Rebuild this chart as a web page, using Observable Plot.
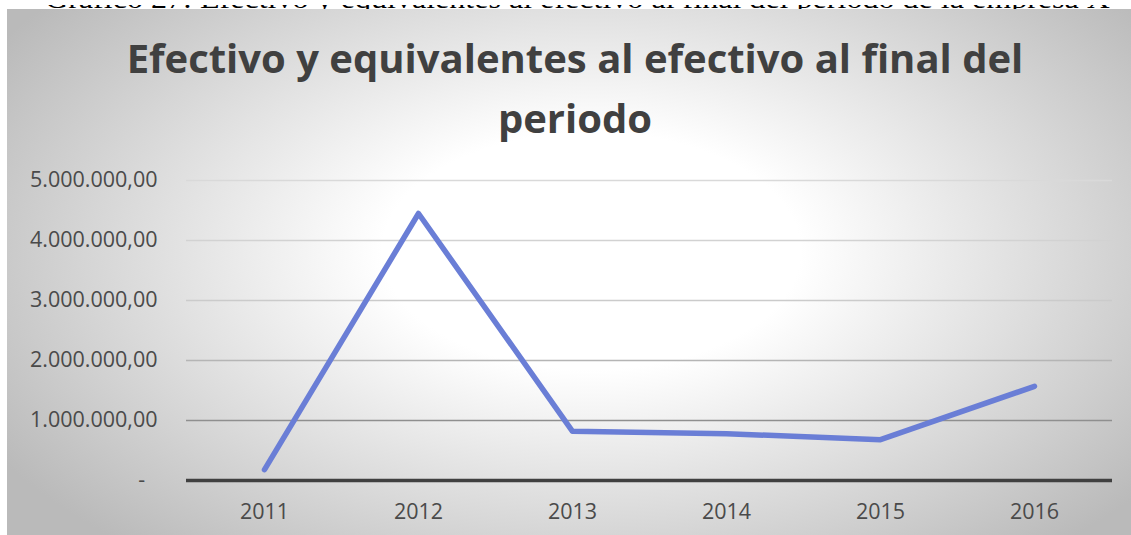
<!DOCTYPE html>
<html>
<head>
<meta charset="utf-8">
<script src="https://cdn.jsdelivr.net/npm/d3@7"></script>
<script src="https://cdn.jsdelivr.net/npm/@observablehq/plot@0.6"></script>
<style>
  html, body { margin: 0; padding: 0; background: #ffffff; width: 1131px; height: 535px; overflow: hidden; }
  #caption { position: absolute; left: 0; top: 0; width: 1131px; height: 9px; overflow: hidden; background: #fff; }
  #chart { position: absolute; left: 7px; top: 9px; width: 1124px; height: 526px;
    background: radial-gradient(ellipse 62% 75% at 52% 46%, #ffffff 0%, #ffffff 30%, #bababa 100%); }
  #header { position: absolute; left: 0; top: 0; }
  #plot { position: absolute; left: 0; top: 150px; }
</style>
</head>
<body>
<div id="caption"></div>
<div id="chart">
  <div id="header"></div>
  <div id="plot"></div>
</div>
<script>
const captionText = "Gráfico 27: Efectivo y equivalentes al efectivo al final del periodo de la empresa X";
const titleLines = ["Efectivo y equivalentes al efectivo al final del", "periodo"];
const years = ["2011", "2012", "2013", "2014", "2015", "2016"];
const cash = [180000, 4450000, 820000, 780000, 680000, 1570000];
const yTicks = [0, 1000000, 2000000, 3000000, 4000000, 5000000];

const data = years.map((year, i) => ({year, value: cash[i]}));

// cut-off caption above the chart
const cap = d3.select("#caption").append("svg").attr("width", 1131).attr("height", 9);
cap.append("text").attr("x", 45).attr("y", 3)
  .attr("textLength", 1065).attr("lengthAdjust", "spacingAndGlyphs")
  .style("font-family", "'Liberation Serif', 'Times New Roman', serif")
  .style("font-size", "28px").style("fill", "#000").text(captionText);

// title
const hdr = d3.select("#header").append("svg").attr("width", 1124).attr("height", 150);
hdr.selectAll("text").data(titleLines).join("text")
  .attr("x", 568).attr("y", (d, i) => 64 + i * 60)
  .attr("text-anchor", "middle")
  .style("font-family", "'Open Sans', sans-serif").style("font-weight", "700")
  .style("font-size", "40px").style("fill", "#404040")
  .text(d => d);

const loc = d3.formatLocale({decimal: ",", thousands: ".", grouping: [3], currency: ["", ""]});
const fmt = loc.format(",.2f");
const gridColor = d3.scaleLinear().domain([1000000, 2000000, 3000000, 5000000]).range(["#8f8f8f", "#b5b5b5", "#cbcbcb", "#d9d9d9"]);

const chart = Plot.plot({
  width: 1124,
  height: 376,
  marginTop: 21,
  marginBottom: 55,
  marginLeft: 179,
  marginRight: 19,
  style: {background: "transparent", fontFamily: "'Open Sans', sans-serif", fontSize: "21.5px", color: "#4a4a4a"},
  x: {type: "point", domain: years, padding: 0.5, label: null},
  y: {domain: [0, 5000000], label: null},
  marks: [
    Plot.ruleY(yTicks.filter(d => d > 0), {stroke: d => gridColor(d), strokeWidth: 1.3}),
    Plot.ruleY([0], {stroke: "#404040", strokeWidth: 3.5}),
    Plot.axisY({ticks: yTicks, tickSize: 0, tickPadding: 29, fill: "#4a4a4a",
      tickFormat: d => d === 0 ? "-\u2007" : fmt(d), label: null}),
    Plot.axisX({tickSize: 0, tickPadding: 23, fill: "#4a4a4a", label: null}),
    Plot.line(data, {x: "year", y: "value", stroke: "#6a7ed6", strokeWidth: 5.5, strokeLinecap: "round", strokeLinejoin: "round"})
  ]
});
document.getElementById("plot").appendChild(chart);
</script>
</body>
</html>
